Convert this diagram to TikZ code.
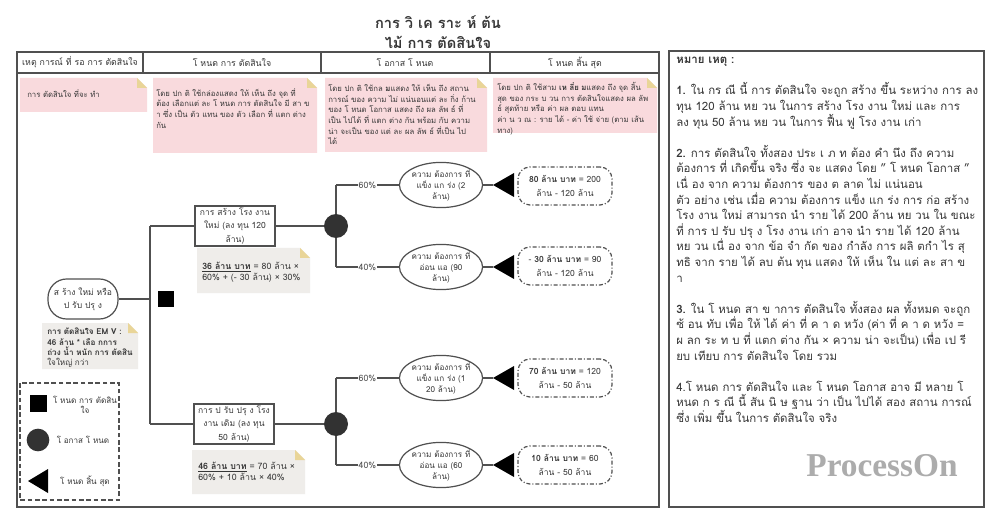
\documentclass[tikz,border=0pt]{standalone}
\usepackage{fontspec}
\setmainfont[Script=Thai]{Loma}
\newfontfamily\wmfont{Liberation Serif}
\usetikzlibrary{calc,shapes.geometric}
\definecolor{pinkn}{RGB}{249,218,221}
\definecolor{grayn}{RGB}{239,237,234}
\definecolor{foldc}{RGB}{233,213,152}
\definecolor{linec}{RGB}{80,80,80}
\definecolor{txt}{RGB}{55,55,55}
\definecolor{dotc}{RGB}{50,50,50}
\definecolor{wmc}{RGB}{172,172,172}
\newcommand\stick[5]{%
  \fill[#5] (#1,#2) -- ({#3-10},#2) -- (#3,{#2+10}) -- (#3,#4) -- (#1,#4) -- cycle;
  \fill[foldc] ({#3-10},#2) -- ({#3-10},{#2+10}) -- (#3,{#2+10}) -- cycle;}
\begin{document}
\begin{tikzpicture}[x=0.75pt,y=-0.75pt,
  conn/.style={draw=linec,line width=0.9pt},
  frame/.style={draw=linec,line width=1pt},
  hdr/.style={font=\fontsize{6.6}{8}\selectfont,text=txt},
  ntext/.style={font=\fontsize{5.8}{8}\selectfont,text=txt,align=left,anchor=north west,inner sep=0pt},
  gtext/.style={font=\fontsize{6.6}{7.8}\selectfont,text=txt,align=left,anchor=north west,inner sep=0pt},
  boxtxt/.style={font=\fontsize{6.4}{10}\selectfont,text=txt,align=center},
  dbox/.style={draw=linec,line width=0.9pt,fill=white,minimum width=60pt,minimum height=30pt,inner sep=1pt,boxtxt},
  rootbox/.style={draw=linec,line width=0.9pt,fill=white,rounded corners=14pt,minimum width=52.5pt,minimum height=30pt,inner sep=1pt,boxtxt},
  ell/.style={draw=linec,line width=0.9pt,fill=white,ellipse,minimum width=54pt,minimum height=26.5pt,inner sep=0pt,font=\fontsize{6.1}{8.2}\selectfont,text=txt,align=center},
  endbox/.style={draw=linec,line width=0.9pt,fill=white,rounded corners=9pt,dash pattern=on 3pt off 1.5pt on 0.8pt off 1.5pt,minimum width=70.5pt,minimum height=28.5pt,inner sep=1pt,boxtxt},
  chance/.style={circle,fill=dotc,minimum size=18pt,inner sep=0pt},
  pct/.style={fill=white,inner sep=0.5pt,font=\fontsize{6.6}{8}\selectfont,text=linec},
  leg/.style={font=\fontsize{6.1}{8}\selectfont,text=txt,align=center}
]
\useasboundingbox (0,0) rectangle (1000,524);
\fill[white] (0,0) rectangle (1000,524);

% title
\node[font=\bfseries\fontsize{11}{14.5}\selectfont,text=txt,align=center] (title) at (438,32) {การ วิ เค ราะ ห์ ต้น\\ไม้ การ ตัดสินใจ};

% swimlane frame
\draw[frame] (17,52) rectangle (659,507);
\draw[frame] (17,52) rectangle (659,73);
\draw[frame] (143,52) -- (143,73);
\draw[frame] (321,52) -- (321,73);
\draw[frame] (490,52) -- (490,73);
\node[hdr] (h1) at (80,62.5) {เหตุ การณ์ ที่ รอ การ ตัดสินใจ};
\node[hdr] (h2) at (232,62.5) {โ หนด การ ตัดสินใจ};
\node[hdr] (h3) at (405,62.5) {โ อกาส โ หนด};
\node[hdr] (h4) at (575,62.5) {โ หนด สิ้น สุด};

% pink notes
\stick{20}{78}{147}{112}{pinkn}
\stick{153}{78}{317}{153}{pinkn}
\stick{325}{78}{487}{152}{pinkn}
\stick{493}{78}{657}{133}{pinkn}
\node[ntext] (pt1) at (27,89) {การ ตัดสินใจ ที่จะ ทำ};
\node[ntext] (pt2) at (156,88) {โดย ปก ติ ใช้กล่องแสดง ให้ เห็น ถึง จุด ที่\\ต้อง เลือกแต่ ละ โ หนด การ ตัดสินใจ มี สา ข\\า ซึ่ง เป็น ตัว แทน ของ ตัว เลือก ที่ แตก ต่าง\\กัน};
\node[ntext] (pt3) at (328,84) {โดย ปก ติ ใช้กล \textbf{ม}แสดง ให้ เห็น ถึง สถาน\\การณ์ ของ ความ ไม่ แน่นอนแต่ ละ กิ่ง ก้าน\\ของ โ หนด โอกาส แสดง ถึง ผล ลัพ ธ์ ที่\\เป็น ไปได้ ที่ แตก ต่าง กัน พร้อม กับ ความ\\น่า จะเป็น ของ แต่ ละ ผล ลัพ ธ์ ที่เป็น ไป\\ได้};
\node[ntext] (pt4) at (497,82) {โดย ปก ติ ใช้สาม \textbf{เห ลี่ย ม}แสดง ถึง จุด สิ้น\\สุด ของ กระ บ วน การ ตัดสินใจแสดง ผล ลัพ\\ธ์ สุดท้าย หรือ ค่า ผล ตอบ แทน\\ค่า น ว ณ : ราย ได้ - ค่า ใช้ จ่าย (ตาม เส้น\\ทาง)};

% gray notes
\stick{197}{248}{310}{293}{grayn}
\stick{192}{450}{305}{494}{grayn}
\stick{42}{323}{138}{369}{grayn}
\node[gtext] (gt1) at (202,262) {\underline{\textbf{36 ล้าน บาท}} = 80 ล้าน ×\\60\% + (- 30 ล้าน) × 30\%};
\node[gtext] (gt2) at (198,462) {\underline{\textbf{46 ล้าน บาท}} = 70 ล้าน ×\\60\% + 10 ล้าน × 40\%};
\node[ntext,font=\bfseries\fontsize{6.1}{7.6}\selectfont] (gt3) at (47,328) {การ ตัดสินใจ EM V :\\46 ล้าน * เลือ กการ\\ถ่วง น้ำ หนัก การ ตัดสิน\\\mdseries ใจใหญ่ กว่า};

% tree
\node[rootbox] (root) at (83,299) {ส ร้าง ใหม่ หรือ\\ป รับ ปรุ ง};
\node[fill=black,minimum size=12pt,inner sep=0pt] (sq) at (166,299) {};
\coordinate (jr) at (150,299);
\coordinate (jt) at (150,226);
\coordinate (jb) at (150,424);
\node[dbox] (d1) at (235,226) {การ สร้าง โรง งาน\\ใหม่ (ลง ทุน 120\\ล้าน)};
\node[dbox] (d2) at (234,424) {การ ป รับ ปรุ ง โรง\\งาน เดิม (ลง ทุน\\50 ล้าน)};
\draw[conn] (root.east) -- (jr);
\draw[conn] (jt) -- (jb);
\draw[conn] (jt) -- (d1.west);
\draw[conn] (jb) -- (d2.west);

% chance nodes
\coordinate (c1t) at (336,185);
\coordinate (c1b) at (336,267);
\coordinate (c2t) at (336,378);
\coordinate (c2b) at (336,465);
\draw[conn] (c1t) -- (c1b);
\draw[conn] (c2t) -- (c2b);
\node[chance] (c1) at (336,226) {};
\node[chance] (c2) at (336,424) {};
\draw[conn] (d1.east) -- (c1.west);
\draw[conn] (d2.east) -- (c2.west);

\node[ell] (e1) at (441,185) {ความ ต้องการ ที่\\แข็ง แก ร่ง (2\\ล้าน)};
\node[ell] (e2) at (441,267) {ความ ต้องการ ที่\\อ่อน แอ (90\\ล้าน)};
\node[ell] (e3) at (441,378) {ความ ต้องการ ที่\\แข็ง แก ร่ง (1\\20 ล้าน)};
\node[ell] (e4) at (441,465) {ความ ต้องการ ที่\\อ่อน แอ (60\\ล้าน)};
\draw[conn] (c1t) -- node[pct] (p1) {60\%} (e1.west);
\draw[conn] (c1b) -- node[pct] (p2) {40\%} (e2.west);
\draw[conn] (c2t) -- node[pct] (p3) {60\%} (e3.west);
\draw[conn] (c2b) -- node[pct] (p4) {40\%} (e4.west);

% end nodes
\foreach \n/\y in {1/185,2/267,3/378,4/465}{
  \coordinate (t\n) at (493,\y);
  \fill[black] (493,\y) -- (514,{\y-12}) -- (514,{\y+12}) -- cycle;
}
\draw[conn] (e1.east) -- (t1);
\draw[conn] (e2.east) -- (t2);
\draw[conn] (e3.east) -- (t3);
\draw[conn] (e4.east) -- (t4);
\node[endbox] (r1) at (565,186) {\textbf{80 ล้าน บาท} = 200\\ล้าน - 120 ล้าน};
\node[endbox] (r2) at (565,266) {- \textbf{30 ล้าน บาท} = 90\\ล้าน - 120 ล้าน};
\node[endbox] (r3) at (565,378) {\textbf{70 ล้าน บาท} = 120\\ล้าน - 50 ล้าน};
\node[endbox] (r4) at (565,465) {\textbf{10 ล้าน บาท} = 60\\ล้าน - 50 ล้าน};

% legend
\draw[linec,line width=0.9pt,dash pattern=on 3.5pt off 2pt] (20,383) rectangle (119,500);
\node[fill=black,minimum size=12.75pt,inner sep=0pt] (lsq) at (38.5,403.5) {};
\node[leg] (lt1) at (85,405) {โ หนด การ ตัดสิน\\ใจ};
\node[chance,minimum size=17pt] (lci) at (38,440) {};
\node[leg] (lt2) at (83,440) {โ อกาส โ หนด};
\fill[black] (28,481) -- (48,469) -- (48,493) -- cycle;
\node[leg] (lt3) at (85,481) {โ หนด สิ้น สุด};

% notes panel
\draw[frame] (669,51) rectangle (984,507);
\node[anchor=north west,inner sep=0pt,align=left,text=txt,font=\fontsize{8.6}{11.7}\selectfont] (notes) at (676,57) {%
\textbf{หมาย เหตุ :}\\
\mbox{}\\
\textbf{1.} ใน กร ณี นี้ การ ตัดสินใจ จะถูก สร้าง ขึ้น ระหว่าง การ ลง\\
ทุน 120 ล้าน หย วน ในการ สร้าง โรง งาน ใหม่ และ การ\\
ลง ทุน 50 ล้าน หย วน ในการ ฟื้น ฟู โรง งาน เก่า\\
\mbox{}\\
\textbf{2.} การ ตัดสินใจ ทั้งสอง ประ เ ภ ท ต้อง คำ นึง ถึง ความ\\
ต้องการ ที่ เกิดขึ้น จริง ซึ่ง จะ แสดง โดย " โ หนด โอกาส "\\
เนื่ อง จาก ความ ต้องการ ของ ต ลาด ไม่ แน่นอน\\
ตัว อย่าง เช่น เมื่อ ความ ต้องการ แข็ง แก ร่ง การ ก่อ สร้าง\\
โรง งาน ใหม่ สามารถ นำ ราย ได้ 200 ล้าน หย วน ใน ขณะ\\
ที่ การ ป รับ ปรุ ง โรง งาน เก่า อาจ นำ ราย ได้ 120 ล้าน\\
หย วน เนื่ อง จาก ข้อ จำ กัด ของ กำลัง การ ผลิ ตกำ ไร สุ\\
ทธิ จาก ราย ได้ ลบ ต้น ทุน แสดง ให้ เห็น ใน แต่ ละ สา ข\\
า\\
\mbox{}\\
\textbf{3.} ใน โ หนด สา ข าการ ตัดสินใจ ทั้งสอง ผล ทั้งหมด จะถูก\\
ซ้ อน ทับ เพื่อ ให้ ได้ ค่า ที่ ค า ด หวัง (ค่า ที่ ค า ด หวัง =\\
ผ ลก ระ ท บ ที่ แตก ต่าง กัน × ความ น่า จะเป็น) เพื่อ เป รี\\
ยบ เทียบ การ ตัดสินใจ โดย รวม\\
\mbox{}\\
4.โ หนด การ ตัดสินใจ และ โ หนด โอกาส อาจ มี หลาย โ\\
หนด ก ร ณี นี้ สัน นิ ษ ฐาน ว่า เป็น ไปได้ สอง สถาน การณ์\\
ซึ่ง เพิ่ม ขึ้น ในการ ตัดสินใจ จริง};
\node[text=wmc,font=\wmfont\bfseries\fontsize{25}{25}\selectfont] (wm) at (882,466) {ProcessOn};
\end{tikzpicture}
\end{document}
